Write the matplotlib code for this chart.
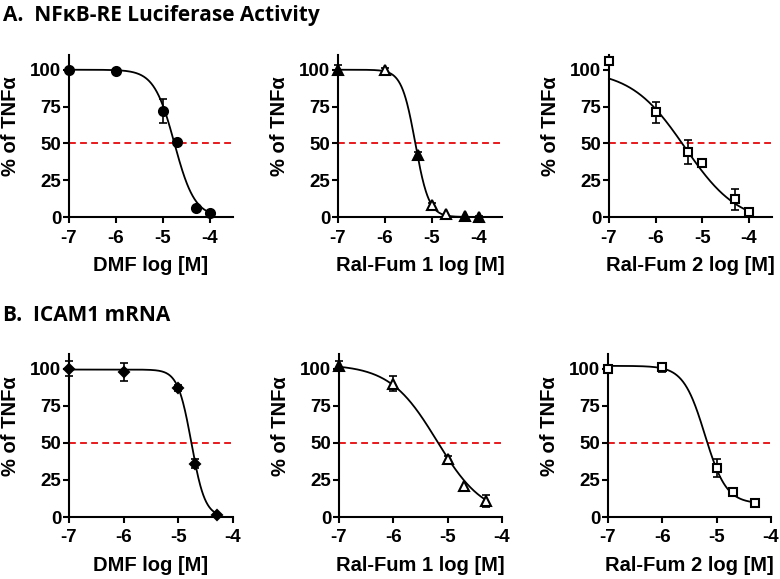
import numpy as np
import matplotlib
matplotlib.use("Agg")
import matplotlib.pyplot as plt

plt.rcParams['font.family'] = ['Liberation Sans', 'DejaVu Sans']

# ---------------- data ----------------
# Row A: NFkB-RE luciferase activity
a1_x = [-7, -6, -5, -4.7, -4.3, -4]
a1_y = [100, 99, 72, 51, 6, 3]
a1_e = [0, 0, 8, 0, 0, 0]
a1_fit = [100, 0, -4.75, 2.0]          # top, bottom, logIC50, hill

a2_x = [-7, -6, -5.3, -5, -4.7, -4.3, -4]
a2_y = [100, 99.5, 42, 8, 2, 0.5, 0]
a2_e = [3, 2, 2, 1.5, 0, 0, 1]
a2_fit = [100, 0, -5.35, 3.0]

a3_x = [-7, -6, -5.3, -5, -4.3, -4]
a3_y = [106, 71, 44, 37, 12, 3.5]
a3_e = [0, 7, 8, 0, 7, 2]
a3_fit = [100, -5, -5.375, 0.75]

# Row B: ICAM1 mRNA
b1_x = [-7, -6, -5, -4.7, -4.3]
b1_y = [100, 98, 87, 36, 1.5]
b1_e = [5, 6, 2, 3, 0]
b1_fit = [99.5, 0, -4.76, 3.5]

b2_x = [-7, -6, -5, -4.7, -4.3]
b2_y = [102, 90, 39, 21, 11]
b2_e = [3, 5, 2, 0, 4]
b2_fit = [103, 0, -5.2, 1.0]

b3_x = [-7, -6, -5, -4.7, -4.3]
b3_y = [100, 101, 33, 17, 9.5]
b3_e = [0, 3, 6, 0, 0]
b3_fit = [102, 9, -5.217, 2.2]

xlabels = ["DMF log [M]", "Ral-Fum 1 log [M]", "Ral-Fum 2 log [M]"]
ylabel = "% of TNF\u03b1"
titles = ["A.  NF\u03baB-RE Luciferase Activity", "B.  ICAM1 mRNA"]
xticks = [-7, -6, -5, -4]
yticks = [0, 25, 50, 75, 100]
ref_level = 50

# ---------------- styling ----------------
W, H = 780, 579
fig = plt.figure(figsize=(W / 100, H / 100), dpi=100)

def ax_at(l, r, t, b):
    return fig.add_axes([l / W, 1 - b / H, (r - l) / W, (b - t) / H])

panels = [
    dict(box=(69, 233, 55, 217), x=a1_x, y=a1_y, e=a1_e, fit=a1_fit, xl=xlabels[0],
         m='o', ms=6.5, fill=['k'] * 6, xmax=-3.5),
    dict(box=(338, 502, 55, 217), x=a2_x, y=a2_y, e=a2_e, fit=a2_fit, xl=xlabels[1],
         m='^', ms=6.5, fill=['k', 'w', 'k', 'w', 'w', 'k', 'k'], xmax=-3.5),
    dict(box=(609, 772, 55, 217), x=a3_x, y=a3_y, e=a3_e, fit=a3_fit, xl=xlabels[2],
         m='s', ms=6, fill=['w'] * 6, xmax=-3.5),
    dict(box=(69, 233, 354, 517), x=b1_x, y=b1_y, e=b1_e, fit=b1_fit, xl=xlabels[0],
         m='D', ms=5.5, fill=['k'] * 5, xmax=-4),
    dict(box=(339, 502, 354, 517), x=b2_x, y=b2_y, e=b2_e, fit=b2_fit, xl=xlabels[1],
         m='^', ms=6.5, fill=['k', 'w', 'w', 'w', 'w'], xmax=-4),
    dict(box=(608, 771, 354, 517), x=b3_x, y=b3_y, e=b3_e, fit=b3_fit, xl=xlabels[2],
         m='s', ms=6, fill=['w'] * 5, xmax=-4),
]

for p in panels:
    l, r, t, b = p['box']
    ax = ax_at(l, r, t, b)
    ax.set_xlim(-7, p['xmax'])
    ax.set_ylim(0, 110)
    for s in ['top', 'right']:
        ax.spines[s].set_visible(False)
    for s in ['left', 'bottom']:
        ax.spines[s].set_linewidth(1.5)
    ax.set_xticks(xticks)
    ax.set_xticklabels([str(v) for v in xticks])
    ax.set_yticks(yticks)
    ax.tick_params(axis='both', direction='out', length=4, width=1.5,
                   labelsize=13.5)
    ax.tick_params(axis='x', pad=5)
    ax.tick_params(axis='y', pad=1.5)
    for lab in ax.get_xticklabels() + ax.get_yticklabels():
        lab.set_fontweight('bold')

    # reference line
    ax.axhline(ref_level, color='#e8191c', lw=1.4, ls=(0, (3.5, 2.2)), zorder=1)

    # fitted curve
    top, bot, c, h = p['fit']
    xx = np.linspace(-7, max(p['x']), 300)
    yy = bot + (top - bot) / (1 + 10 ** ((xx - c) * h))
    ax.plot(xx, yy, color='k', lw=1.3, zorder=2, clip_on=False)

    # data points
    for xi, yi, ei, fc in zip(p['x'], p['y'], p['e'], p['fill']):
        if ei > 0:
            ax.errorbar(xi, yi, yerr=ei, fmt='none', ecolor='k', elinewidth=1.2,
                        capsize=3, capthick=1.2, zorder=3, clip_on=False)
        ax.plot(xi, yi, marker=p['m'], ms=p['ms'], mfc=fc, mec='k', mew=1.5,
                ls='none', zorder=4, clip_on=False)

    ax.set_xlabel(p['xl'], fontsize=14.5, fontweight='bold', labelpad=7)
    ax.set_ylabel(ylabel, fontsize=14.5, fontweight='bold')
    ax.yaxis.set_label_coords(-0.30, 0.56)

fig.text(3 / W, 1 - 21 / H, titles[0], fontsize=15, fontweight='bold',
         family=['Open Sans', 'DejaVu Sans'], ha='left', va='baseline')
fig.text(3 / W, 1 - 321 / H, titles[1], fontsize=15, fontweight='bold',
         family=['Open Sans', 'DejaVu Sans'], ha='left', va='baseline')

fig.savefig('out.png', dpi=100)
